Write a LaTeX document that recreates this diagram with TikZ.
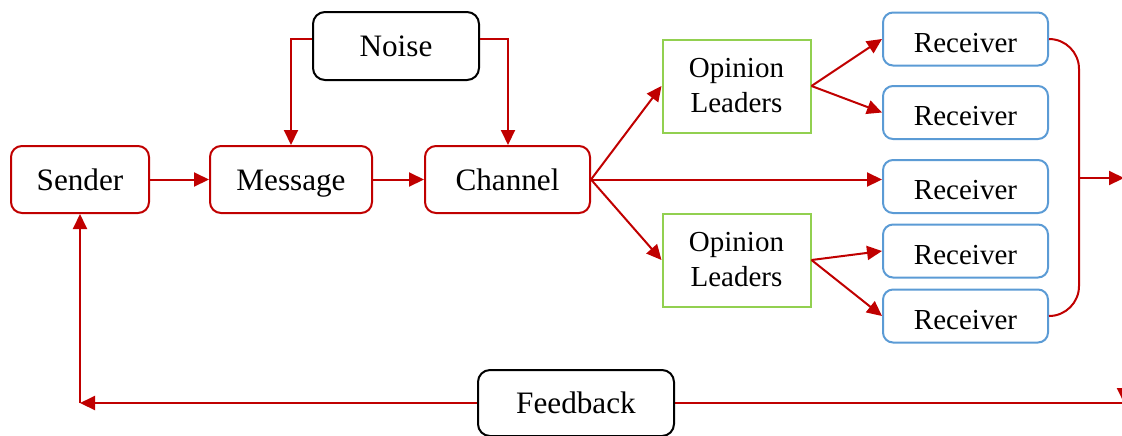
\documentclass[tikz,border=0pt]{standalone}
\usepackage{fontspec}
\setmainfont{Liberation Serif}
\usetikzlibrary{arrows.meta}
\definecolor{flowred}{HTML}{C00000}
\definecolor{recblue}{HTML}{5B9BD5}
\definecolor{leadgreen}{HTML}{92D050}
\tikzset{
  px/.style={x=0.5pt,y=-0.5pt},
  base/.style={draw, line width=1pt, inner sep=0pt, align=center, fill=white},
  mainbox/.style={base, draw=flowred, rounded corners=5.5pt, minimum height=33.5pt,
    text height=10.5pt, text depth=0pt, font=\fontsize{15.6}{17}\selectfont},
  blackbox/.style={base, draw=black, rounded corners=6pt,
    text height=10.5pt, text depth=0pt, font=\fontsize{15.6}{17}\selectfont},
  leadbox/.style={base, draw=leadgreen, minimum width=74pt, minimum height=46.5pt, font=\fontsize{14.5}{17.5}\selectfont},
  recbox/.style={base, draw=recblue, rounded corners=5pt, minimum width=82.5pt, minimum height=26.5pt,
    text height=13pt, text depth=0pt, font=\fontsize{14.5}{17}\selectfont},
  flow/.style={draw=flowred, line width=1pt, -{Triangle[length=7.5pt,width=7pt]}, color=flowred},
  link/.style={draw=flowred, line width=1pt}
}
\begin{document}
\begin{tikzpicture}[px]
\useasboundingbox (0,0) rectangle (1122,435);
\clip (0,0) rectangle (1122,435);

% main chain
\node[mainbox, minimum width=69pt] (sender) at (80,179.5) {Sender};
\node[mainbox, minimum width=81pt] (message) at (291,179.5) {Message};
\node[mainbox, minimum width=82.5pt] (channel) at (507.5,179.5) {Channel};
\node[blackbox, minimum width=83pt, minimum height=34pt] (noise) at (396,46) {Noise};

% opinion leaders
\node[leadbox] (ol1) at (736.5,86) {Opinion\\Leaders};
\node[leadbox] (ol2) at (736.5,260) {Opinion\\Leaders};

% receivers
\node[recbox] (r1) at (965.5,39) {Receiver};
\node[recbox] (r2) at (965.5,112.5) {Receiver};
\node[recbox] (r3) at (965.5,186.5) {Receiver};
\node[recbox] (r4) at (965.5,251) {Receiver};
\node[recbox] (r5) at (965.5,316) {Receiver};

% helper points
\coordinate (nl) at (291,39);
\coordinate (nr) at (508,39);
\coordinate (bt) at (1079,39);
\coordinate (bb) at (1079,316);
\coordinate (bm) at (1079,178);
\coordinate (out) at (1124,178);
\coordinate (fbr) at (1124,403);
\coordinate (fbtop) at (1124,380);
\coordinate (fbl) at (80,403);

% feedback line, box drawn over it
\draw[flow] (fbr) -- (fbl);
\draw[flow] (fbl) -- (sender.south);
\draw[flow] (fbtop) -- (fbr);
\node[blackbox, minimum width=98pt, minimum height=33pt] (feedback) at (576,403) {Feedback};

% chain arrows
\draw[flow] (sender) -- (message);
\draw[flow] (message) -- (channel);
\draw[flow] (noise.west |- nl) -- (nl) -- (message.north -| nl);
\draw[flow] (noise.east |- nr) -- (nr) -- (channel.north -| nr);

% fan out from channel
\draw[flow] (channel.east) -- (ol1.west);
\draw[flow] (channel.east) -- (channel.east -| r3.west);
\draw[flow] (channel.east) -- (ol2.west);
\draw[flow] (ol1.east) -- (r1.west);
\draw[flow] (ol1.east) -- (r2.west);
\draw[flow] (ol2.east) -- (r4.west);
\draw[flow] (ol2.east) -- (r5.west);

% bracket collecting the receivers
\draw[link, rounded corners=15pt] (r1.east) -- (bt) -- (bb) -- (r5.east);
\draw[flow] (bm) -- (out);
\end{tikzpicture}
\end{document}
